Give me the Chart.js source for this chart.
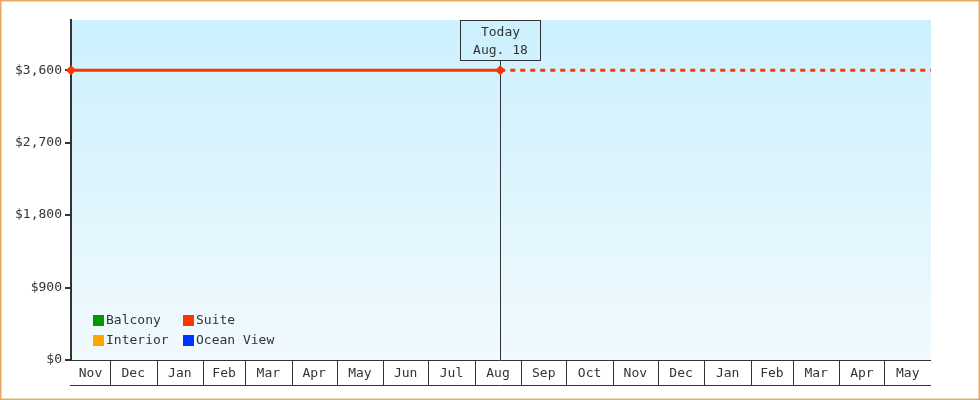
<!DOCTYPE html>
<html>
<head>
<meta charset="utf-8">
<script src="https://cdn.jsdelivr.net/npm/chart.js@4.4.1/dist/chart.umd.min.js"></script>
<style>
  html, body { margin: 0; padding: 0; background: #fff; }
  #wrap { width: 980px; height: 400px; position: relative; }
</style>
</head>
<body>
<div id="wrap"><canvas id="c" width="980" height="400"></canvas></div>
<script>
// ---- data ----
const seriesNames = ['Balcony', 'Interior', 'Suite', 'Ocean View'];
const seriesColors = ['#009900', '#ffa500', '#ff3300', '#0033ff'];
const suiteDates = ['2024-11-05', '2025-08-18', '2026-06-01'];
const suiteValues = [3600, 3600, 3600];
const balconyValues = [];
const interiorValues = [];
const oceanViewValues = [];
const yTickValues = [0, 900, 1800, 2700, 3600];
const monthLabels = ['Jan','Feb','Mar','Apr','May','Jun','Jul','Aug','Sep','Oct','Nov','Dec'];
const todayDate = '2025-08-18';
const todayLines = ['Today', 'Aug. 18'];
const rangeStart = '2024-11-05';
const rangeEnd = '2026-06-01';
const yMax = 4224;

function ts(s) { const p = s.split('-').map(Number); return Date.UTC(p[0], p[1]-1, p[2]); }
const todayTs = ts(todayDate);
const todayIndex = suiteDates.indexOf(todayDate);

const FONT = '13px "DejaVu Sans Mono", monospace';
const INK = '#333333';

const bgPlugin = {
  id: 'bg',
  beforeDraw(chart) {
    const {ctx, chartArea: a} = chart;
    ctx.save();
    ctx.fillStyle = '#ffffff';
    ctx.fillRect(0, 0, chart.width, chart.height);
    const g = ctx.createLinearGradient(0, a.top, 0, a.bottom);
    g.addColorStop(0, '#ccf0fd');
    g.addColorStop(1, '#f1fafe');
    ctx.fillStyle = g;
    ctx.fillRect(a.left, a.top, a.right - a.left, a.bottom - a.top);
    // outer border
    ctx.strokeStyle = '#eaa862';
    ctx.lineWidth = 1.5;
    ctx.strokeRect(0.75, 0.75, chart.width - 1.5, chart.height - 1.5);
    ctx.restore();
  }
};

const overlayPlugin = {
  id: 'overlay',
  beforeDatasetsDraw(chart) {
    const {ctx, chartArea: a, scales: {x}} = chart;
    ctx.save();
    // today line and box
    const tx = Math.round(x.getPixelForValue(todayTs)) + 0.5;
    const boxW = 80, boxH = 40;
    ctx.strokeStyle = INK;
    ctx.lineWidth = 1;
    ctx.beginPath();
    ctx.moveTo(tx, a.top + boxH + 0.5);
    ctx.lineTo(tx, a.bottom);
    ctx.stroke();
    ctx.strokeRect(tx - boxW / 2, a.top + 0.5, boxW, boxH);
    ctx.fillStyle = INK;
    ctx.font = FONT;
    ctx.textAlign = 'center';
    ctx.textBaseline = 'middle';
    ctx.fillText(todayLines[0], tx, a.top + 12.5);
    ctx.fillText(todayLines[1], tx, a.top + 30.5);
    ctx.restore();
  },
  afterDraw(chart) {
    const {ctx, chartArea: a, scales: {x}} = chart;
    ctx.save();
    // x axis month boxes
    const bottomY = a.bottom + 25;
    ctx.strokeStyle = INK;
    ctx.lineWidth = 1;
    ctx.beginPath();
    ctx.moveTo(a.left - 1, a.bottom + 0.5);
    ctx.lineTo(a.right, a.bottom + 0.5);
    ctx.moveTo(a.left - 1, bottomY + 0.5);
    ctx.lineTo(a.right, bottomY + 0.5);
    ctx.stroke();
    const s = new Date(ts(rangeStart));
    const e = ts(rangeEnd);
    const bounds = [ts(rangeStart)];
    let y = s.getUTCFullYear(), m = s.getUTCMonth() + 1;
    while (true) {
      const t = Date.UTC(y, m, 1);
      if (t >= e) break;
      bounds.push(t);
      m++;
    }
    bounds.push(e);
    ctx.font = FONT;
    ctx.fillStyle = INK;
    ctx.textAlign = 'center';
    ctx.textBaseline = 'middle';
    for (let i = 0; i < bounds.length - 1; i++) {
      const x0 = x.getPixelForValue(bounds[i]);
      const x1 = x.getPixelForValue(bounds[i + 1]);
      if (i > 0) {
        const px = Math.round(x0) + 0.5;
        ctx.beginPath();
        ctx.moveTo(px, a.bottom);
        ctx.lineTo(px, bottomY);
        ctx.stroke();
      }
      const mon = new Date(bounds[i]).getUTCMonth();
      ctx.fillText(monthLabels[mon], (x0 + x1) / 2, a.bottom + 13.5);
    }
    // legend (two columns)
    const ds = chart.data.datasets;
    const cols = [[0, 1], [2, 3]];
    const colX = [a.left + 22, a.left + 112];
    cols.forEach((col, ci) => {
      col.forEach((di, ri) => {
        const lx = colX[ci];
        const ly = a.bottom - 45 + ri * 20;
        ctx.fillStyle = ds[di].backgroundColor;
        ctx.fillRect(lx, ly, 11, 11);
        ctx.fillStyle = INK;
        ctx.textAlign = 'left';
        ctx.fillText(ds[di].label, lx + 13, ly + 6);
      });
    });
    ctx.restore();
  }
};

const suitePoints = suiteDates.map((d, i) => ({x: ts(d), y: suiteValues[i]}));

new Chart(document.getElementById('c'), {
  type: 'line',
  data: {
    datasets: [
      {label: seriesNames[0], data: balconyValues, borderColor: seriesColors[0], backgroundColor: seriesColors[0]},
      {label: seriesNames[1], data: interiorValues, borderColor: seriesColors[1], backgroundColor: seriesColors[1]},
      {
        label: seriesNames[2],
        data: suitePoints,
        borderColor: seriesColors[2],
        backgroundColor: seriesColors[2],
        borderWidth: 3,
        pointStyle: 'rectRot',
        pointRadius: suitePoints.map((p, i) => i <= todayIndex ? 4.5 : 0),
        pointBorderWidth: 1,
        pointBackgroundColor: seriesColors[2],
        pointBorderColor: seriesColors[2],
        clip: false,
        segment: {
          borderDash: c => c.p0DataIndex >= todayIndex ? [5, 5] : undefined
        }
      },
      {label: seriesNames[3], data: oceanViewValues, borderColor: seriesColors[3], backgroundColor: seriesColors[3]}
    ]
  },
  options: {
    responsive: false,
    animation: false,
    devicePixelRatio: 1,
    layout: {padding: {top: 20, right: 49, left: 0, bottom: 0}},
    plugins: {legend: {display: false}, tooltip: {enabled: false}},
    scales: {
      x: {
        type: 'linear',
        min: ts(rangeStart),
        max: ts(rangeEnd),
        ticks: {display: false},
        grid: {display: false},
        border: {display: false},
        afterFit(scale) { scale.height = 40; }
      },
      y: {
        type: 'linear',
        min: 0,
        max: yMax,
        afterBuildTicks(scale) { scale.ticks = yTickValues.map(v => ({value: v})); },
        afterFit(scale) { scale.width = 71; },
        ticks: {
          color: INK,
          font: {family: '"DejaVu Sans Mono", monospace', size: 13},
          padding: 3,
          callback: v => '$' + v.toLocaleString('en-US')
        },
        grid: {drawOnChartArea: false, color: INK, lineWidth: 2, tickLength: 6},
        border: {display: true, color: INK, width: 2}
      }
    }
  },
  plugins: [bgPlugin, overlayPlugin]
});
</script>
</body>
</html>
